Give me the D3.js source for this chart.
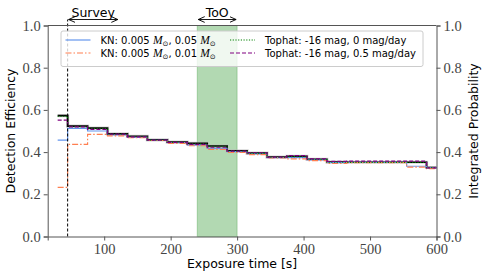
<!DOCTYPE html>
<html>
<head>
<meta charset="utf-8">
<script src="https://cdn.jsdelivr.net/npm/d3@7"></script>
<style>
  body { margin: 0; background: #fff; }
  svg { display: block; }
</style>
</head>
<body>
<svg id="chart"></svg>
<script>
// exposure times (s)
let times = [30, 60, 90, 120, 150, 180, 210, 240, 270, 300, 330, 360, 390, 420, 450, 480, 510, 540, 570, 600];

// integrated probability (black)
let integrated = [0.573, 0.523, 0.514, 0.486, 0.475, 0.458, 0.447, 0.441, 0.429, 0.406, 0.395, 0.376, 0.380, 0.366, 0.353, 0.352, 0.352, 0.352, 0.352, 0.327];
let knHeavy = [0.457, 0.512, 0.500, 0.481, 0.470, 0.456, 0.445, 0.433, 0.418, 0.402, 0.392, 0.374, 0.374, 0.363, 0.350, 0.351, 0.351, 0.351, 0.333, 0.326];
let knLight = [0.233, 0.437, 0.484, 0.477, 0.468, 0.455, 0.441, 0.430, 0.413, 0.398, 0.388, 0.372, 0.368, 0.360, 0.346, 0.350, 0.350, 0.350, 0.329, 0.322];
let tophatFlat = [0.570, 0.521, 0.512, 0.485, 0.474, 0.457, 0.446, 0.439, 0.427, 0.405, 0.394, 0.375, 0.379, 0.365, 0.352, 0.351, 0.351, 0.351, 0.351, 0.326];
let tophatFade = [0.552, 0.520, 0.508, 0.485, 0.472, 0.457, 0.446, 0.437, 0.423, 0.405, 0.397, 0.376, 0.383, 0.368, 0.356, 0.357, 0.357, 0.357, 0.357, 0.325];

let xTicks = [100, 200, 300, 400, 500, 600];
let yTicks = [0, 0.2, 0.4, 0.6, 0.8, 1.0];
let surveyStart = 45, surveyEnd = 122;
let tooRange = [240, 300];

let W = 484, H = 277;
let margin = {top: 25.5, right: 47.5, bottom: 40.5, left: 47.7};
let width = W - margin.left - margin.right;
let height = H - margin.top - margin.bottom;

let svg = d3.select('#chart').attr('width', W).attr('height', H);
let g = svg.append('g').attr('transform', 'translate(' + margin.left + ',' + margin.top + ')');

let x = d3.scaleLinear().domain([15, 600]).range([0, width]);
let y = d3.scaleLinear().domain([0, 1]).range([height, 0]);

let serif = "'Liberation Serif','DejaVu Serif',serif";
let sans = "'DejaVu Sans','Liberation Sans',sans-serif";

// ToO band
g.append('rect')
  .attr('x', x(tooRange[0]))
  .attr('y', 0)
  .attr('width', x(tooRange[1]) - x(tooRange[0]))
  .attr('height', height)
  .style('fill', 'rgba(0,128,0,0.3)')
  .style('stroke', 'rgba(0,128,0,0.25)')
  .style('stroke-width', 1);

let line = function (vals) {
  return d3.line()
    .x(function (d, i) { return x(times[i]); })
    .y(function (d) { return y(d); })
    .curve(d3.curveStep)(vals);
};

// series
g.append('path').attr('d', line(integrated))
  .style('fill', 'none').style('stroke', '#bbb').style('stroke-width', 3.2).style('opacity', 0.6);
g.append('path').attr('d', line(integrated))
  .style('fill', 'none').style('stroke', 'black').style('stroke-width', 1.7);

let series = [
  {vals: knHeavy, color: '#6495ed', dash: null, w: 1.2},
  {vals: knLight, color: '#ff7f50', dash: '6,2,1.5,2', w: 1.2},
  {vals: tophatFlat, color: 'green', dash: '1.2,1.5', w: 1.2},
  {vals: tophatFade, color: 'purple', dash: '4,2', w: 1.2}
];
series.forEach(function (s) {
  g.append('path').attr('d', line(s.vals))
    .style('fill', 'none')
    .style('stroke', s.color)
    .style('stroke-width', s.w)
    .style('stroke-dasharray', s.dash);
});

// survey start line
g.append('line')
  .attr('x1', x(surveyStart)).attr('x2', x(surveyStart))
  .attr('y1', height).attr('y2', -6)
  .style('stroke', 'black').style('stroke-width', 1).style('stroke-dasharray', '3,2');

// axes
let xAxis = g.append('g').attr('transform', 'translate(0,' + height + ')')
  .call(d3.axisBottom(x).tickValues(xTicks).tickSize(4).tickPadding(3).tickFormat(d3.format('d')));
let yAxis = g.append('g')
  .call(d3.axisLeft(y).tickValues(yTicks).tickSize(4).tickPadding(3).tickFormat(d3.format('.1f')));
let yAxisR = g.append('g').attr('transform', 'translate(' + width + ',0)')
  .call(d3.axisRight(y).tickValues(yTicks).tickSize(4).tickPadding(3).tickFormat(d3.format('.1f')));
g.append('line').attr('x1', 0).attr('x2', width).attr('y1', 0).attr('y2', 0)
  .style('stroke', '#555').style('stroke-width', 1);

[xAxis, yAxis, yAxisR].forEach(function (a) {
  a.select('.domain').style('stroke', '#555');
  a.selectAll('.tick line').style('stroke', '#555');
  a.selectAll('.tick text').style('font-family', serif).style('font-size', '14.5px').style('fill', '#444');
});

// axis labels
svg.append('text').attr('x', margin.left + width / 2).attr('y', 268)
  .attr('text-anchor', 'middle').style('font-family', sans).style('font-size', '12.5px')
  .text('Exposure time [s]');
svg.append('text').attr('transform', 'translate(15,' + (margin.top + height / 2) + ') rotate(-90)')
  .attr('text-anchor', 'middle').style('font-family', sans).style('font-size', '12.5px')
  .text('Detection Efficiency');
svg.append('text').attr('transform', 'translate(478,' + (margin.top + height / 2) + ') rotate(-90)')
  .attr('text-anchor', 'middle').style('font-family', sans).style('font-size', '12.5px')
  .text('Integrated Probability');

// annotations above the plot
let defs = svg.append('defs');
defs.append('marker').attr('id', 'ah').attr('viewBox', '0 0 10 10')
  .attr('refX', 9).attr('refY', 5).attr('markerWidth', 8).attr('markerHeight', 8)
  .attr('orient', 'auto-start-reverse')
  .append('path').attr('d', 'M0,1 L9,5 L0,9').style('fill', 'none').style('stroke', 'black').style('stroke-width', 1.3);

let annots = [
  {label: 'Survey', x0: surveyStart, x1: surveyEnd},
  {label: 'ToO', x0: tooRange[0], x1: tooRange[1]}
];
annots.forEach(function (a) {
  g.append('line')
    .attr('x1', x(a.x0) + 1).attr('x2', x(a.x1) - 1)
    .attr('y1', -6).attr('y2', -6)
    .style('stroke', 'black').style('stroke-width', 0.9)
    .attr('marker-start', 'url(#ah)').attr('marker-end', 'url(#ah)');
  g.append('text')
    .attr('x', (x(a.x0) + x(a.x1)) / 2).attr('y', -9)
    .attr('text-anchor', 'middle')
    .style('font-family', sans).style('font-size', '12.5px')
    .text(a.label);
});

// legend
let legend = svg.append('g');
legend.append('rect')
  .attr('x', 61).attr('y', 31).attr('width', 362).attr('height', 35.5).attr('rx', 2)
  .style('fill', 'rgba(255,255,255,0.8)').style('stroke', '#ccc').style('stroke-width', 1);

let entries = [
  {s: series[0], col: 0, row: 0, pre: 'KN: 0.005 ', mid: ', 0.05 ', math: true},
  {s: series[1], col: 0, row: 1, pre: 'KN: 0.005 ', mid: ', 0.01 ', math: true},
  {s: series[2], col: 1, row: 0, text: 'Tophat: -16 mag, 0 mag/day'},
  {s: series[3], col: 1, row: 1, text: 'Tophat: -16 mag, 0.5 mag/day'}
];
let colX = [65.5, 230];
let rowY = [40, 53];
entries.forEach(function (e) {
  let lx = colX[e.col], ly = rowY[e.row];
  legend.append('line')
    .attr('x1', lx).attr('x2', lx + 25).attr('y1', ly).attr('y2', ly)
    .style('stroke', e.s.color).style('stroke-width', e.s.w)
    .style('stroke-dasharray', e.s.dash);
  let t = legend.append('text')
    .attr('x', lx + 35).attr('y', ly + 3.6)
    .style('font-family', sans).style('font-size', '10px');
  if (e.math) {
    t.append('tspan').text(e.pre);
    t.append('tspan').style('font-family', serif).style('font-style', 'italic').style('font-size', '11.5px').text('M');
    t.append('tspan').attr('dy', 2).style('font-size', '7px').text('\u2299');
    t.append('tspan').attr('dy', -2).text(e.mid);
    t.append('tspan').style('font-family', serif).style('font-style', 'italic').style('font-size', '11.5px').text('M');
    t.append('tspan').attr('dy', 2).style('font-size', '7px').text('\u2299');
  } else {
    t.text(e.text);
  }
});
</script>
</body>
</html>
